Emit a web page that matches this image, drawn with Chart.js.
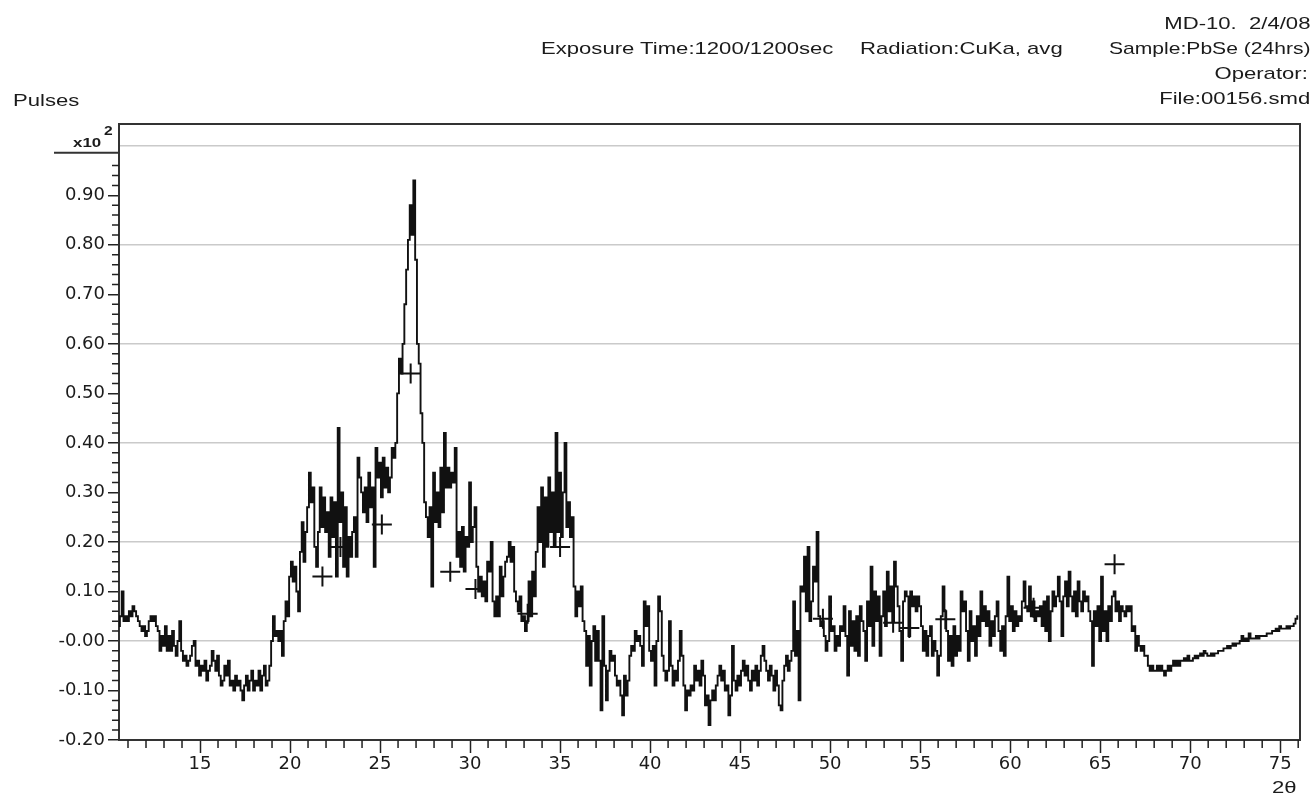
<!DOCTYPE html>
<html>
<head>
<meta charset="utf-8">
<script src="https://cdn.jsdelivr.net/npm/chart.js@4.4.1/dist/chart.umd.min.js"></script>
<style>
  html, body { margin: 0; padding: 0; background: #fff; }
  #wrap { position: relative; width: 1312px; height: 794px; overflow: hidden; }
  #chart { position: absolute; left: 0; top: 0; }
  .txt {
    position: absolute;
    font-family: "Liberation Sans", Arial, sans-serif;
    font-size: 17px;
    line-height: 17px;
    color: #1b1b1b;
    white-space: pre;
    transform: scaleX(1.3);
  }
  .l { transform-origin: left center; }
  .r { transform-origin: right center; }
  .b { font-weight: bold; font-size: 13px; line-height: 13px; }
</style>
</head>
<body>
<div id="wrap">
  <canvas id="chart" width="1312" height="794"></canvas>
  <div class="txt r" style="right:2px; top:15px">MD-10.  2/4/08</div>
  <div class="txt l" style="left:541px; top:40px">Exposure Time:1200/1200sec</div>
  <div class="txt l" style="left:860px; top:40px">Radiation:CuKa, avg</div>
  <div class="txt r" style="right:1px; top:40px; transform:scaleX(1.24)">Sample:PbSe (24hrs)</div>
  <div class="txt r" style="right:4px; top:65px">Operator:</div>
  <div class="txt r" style="right:2px; top:90px">File:00156.smd</div>
  <div class="txt l" style="left:13px; top:92px">Pulses</div>
  <div class="txt l b" style="left:73px; top:136px">x10</div>
  <div class="txt l b" style="left:104px; top:125px; font-size:12px">2</div>
  <div class="txt l" style="left:1272px; top:779px">2θ</div>
</div>

<script>
// scan counts (x10^2 pulses), first the partial degree 10.5-10.9,
// then one row per degree from 11.0 on, 0.1 deg per value
const headCounts = [0.03, 0.05, 0.10, 0.04, 0.05];
const countRows = [
  [0.04, 0.06, 0.05, 0.07, 0.06, 0.05, 0.04, 0.03, 0.02, 0.03], // 11
  [0.01, 0.02, 0.04, 0.05, 0.04, 0.05, 0.03, 0.02, -0.02, 0.01], // 12
  [-0.01, 0.03, -0.02, 0.01, -0.02, 0.02, -0.01, -0.03, 0.00, 0.04], // 13
  [-0.02, -0.04, -0.03, -0.05, -0.04, -0.03, -0.01, 0.00, -0.05, -0.04], // 14
  [-0.07, -0.05, -0.06, -0.04, -0.08, -0.06, -0.05, -0.02, -0.04, -0.06], // 15
  [-0.03, -0.07, -0.09, -0.08, -0.05, -0.07, -0.04, -0.09, -0.08, -0.10], // 16
  [-0.07, -0.09, -0.08, -0.10, -0.12, -0.09, -0.07, -0.10, -0.08, -0.06], // 17
  [-0.10, -0.08, -0.09, -0.06, -0.10, -0.07, -0.05, -0.09, -0.08, -0.05], // 18
  [0.00, 0.05, 0.01, 0.02, 0.00, 0.02, -0.03, 0.04, 0.08, 0.05], // 19
  [0.13, 0.16, 0.12, 0.15, 0.10, 0.06, 0.18, 0.24, 0.16, 0.22], // 20
  [0.27, 0.34, 0.28, 0.31, 0.19, 0.15, 0.22, 0.31, 0.23, 0.29], // 21
  [0.22, 0.26, 0.17, 0.29, 0.21, 0.28, 0.13, 0.43, 0.24, 0.30], // 22
  [0.15, 0.27, 0.13, 0.21, 0.17, 0.22, 0.25, 0.17, 0.37, 0.33], // 23
  [0.30, 0.26, 0.31, 0.24, 0.34, 0.27, 0.31, 0.15, 0.39, 0.33], // 24
  [0.36, 0.29, 0.37, 0.31, 0.35, 0.30, 0.33, 0.39, 0.37, 0.40], // 25
  [0.50, 0.57, 0.54, 0.60, 0.68, 0.75, 0.81, 0.88, 0.82, 0.93], // 26
  [0.77, 0.60, 0.56, 0.46, 0.40, 0.28, 0.25, 0.21, 0.27, 0.11], // 27
  [0.34, 0.24, 0.30, 0.23, 0.35, 0.26, 0.42, 0.31, 0.35, 0.31], // 28
  [0.34, 0.32, 0.39, 0.17, 0.22, 0.15, 0.23, 0.14, 0.21, 0.19], // 29
  [0.32, 0.20, 0.23, 0.27, 0.15, 0.10, 0.13, 0.09, 0.12, 0.08], // 30
  [0.16, 0.14, 0.20, 0.08, 0.05, 0.09, 0.05, 0.15, 0.09, 0.13], // 31
  [0.16, 0.17, 0.20, 0.16, 0.19, 0.10, 0.08, 0.06, 0.09, 0.04], // 32
  [0.05, 0.02, 0.04, 0.12, 0.05, 0.14, 0.09, 0.18, 0.27, 0.20], // 33
  [0.31, 0.15, 0.29, 0.19, 0.33, 0.22, 0.30, 0.19, 0.42, 0.22], // 34
  [0.34, 0.21, 0.30, 0.40, 0.23, 0.28, 0.21, 0.25, 0.11, 0.05], // 35
  [0.10, 0.07, 0.11, 0.04, 0.02, -0.05, 0.01, -0.09, 0.00, 0.03], // 36
  [-0.04, 0.02, -0.04, -0.14, 0.05, -0.05, -0.12, -0.06, -0.02, -0.04], // 37
  [-0.03, -0.07, -0.09, -0.08, -0.11, -0.15, -0.07, -0.11, -0.08, -0.03], // 38
  [-0.01, -0.02, 0.02, 0.00, 0.01, -0.01, -0.05, 0.08, 0.03, 0.07], // 39
  [-0.02, -0.04, -0.01, -0.09, 0.00, 0.09, 0.06, -0.03, -0.06, -0.08], // 40
  [-0.06, 0.04, -0.05, -0.09, -0.06, -0.08, -0.04, 0.02, -0.03, -0.09], // 41
  [-0.14, -0.10, -0.11, -0.09, -0.10, -0.05, -0.08, -0.06, -0.09, -0.04], // 42
  [-0.07, -0.13, -0.11, -0.17, -0.12, -0.10, -0.12, -0.09, -0.07, -0.05], // 43
  [-0.08, -0.06, -0.10, -0.09, -0.15, -0.11, -0.01, -0.08, -0.10, -0.07], // 44
  [-0.09, -0.06, -0.04, -0.07, -0.05, -0.08, -0.10, -0.06, -0.08, -0.05], // 45
  [-0.09, -0.06, -0.03, -0.01, -0.04, -0.06, -0.08, -0.05, -0.07, -0.10], // 46
  [-0.06, -0.09, -0.13, -0.14, -0.08, -0.05, -0.03, -0.06, -0.04, -0.02], // 47
  [0.08, -0.03, 0.02, -0.12, 0.11, 0.10, 0.17, 0.06, 0.19, 0.04], // 48
  [0.08, 0.15, 0.12, 0.22, 0.05, 0.03, 0.04, 0.01, -0.02, 0.00], // 49
  [0.09, 0.02, 0.03, -0.02, 0.01, -0.01, 0.03, 0.02, 0.07, 0.01], // 50
  [-0.07, 0.06, -0.01, 0.04, -0.02, 0.05, -0.03, 0.07, 0.04, 0.02], // 51
  [-0.04, 0.08, 0.03, 0.15, -0.01, 0.10, 0.04, 0.09, -0.03, 0.05], // 52
  [0.10, 0.03, 0.14, 0.06, 0.11, 0.04, 0.16, 0.11, 0.07, 0.02], // 53
  [-0.04, 0.08, 0.10, 0.09, 0.01, 0.10, 0.07, 0.09, 0.06, 0.09], // 54
  [0.07, 0.03, -0.02, 0.02, -0.03, 0.01, 0.03, -0.03, 0.00, -0.02], // 55
  [-0.07, -0.03, 0.05, 0.11, 0.06, 0.02, -0.04, 0.01, -0.05, 0.03], // 56
  [-0.03, 0.01, -0.02, 0.10, 0.06, 0.08, 0.02, -0.04, 0.06, 0.00], // 57
  [0.03, -0.03, 0.05, 0.01, 0.10, 0.04, 0.07, 0.03, 0.06, -0.01], // 58
  [0.04, 0.01, 0.05, 0.08, 0.02, -0.02, 0.03, -0.03, 0.05, 0.13], // 59
  [0.04, 0.07, 0.02, 0.06, 0.03, 0.05, 0.04, 0.08, 0.12, 0.07], // 60
  [0.06, 0.11, 0.05, 0.08, 0.04, 0.06, 0.05, 0.07, 0.03, 0.08], // 61
  [0.02, 0.09, 0.00, 0.06, 0.10, 0.07, 0.09, 0.13, 0.08, 0.01], // 62
  [0.09, 0.12, 0.07, 0.14, 0.09, 0.06, 0.10, 0.05, 0.12, 0.08], // 63
  [0.06, 0.10, 0.08, 0.09, 0.06, 0.04, -0.05, 0.06, 0.03, 0.07], // 64
  [0.00, 0.13, 0.02, 0.06, 0.00, 0.07, 0.04, 0.09, 0.10, 0.06], // 65
  [0.08, 0.04, 0.07, 0.06, 0.05, 0.07, 0.06, 0.07, 0.02, 0.03], // 66
  [-0.02, 0.01, -0.01, -0.02, -0.01, -0.03, -0.03, -0.05, -0.06, -0.05], // 67
  [-0.06, -0.06, -0.05, -0.06, -0.05, -0.06, -0.07, -0.06, -0.05, -0.06], // 68
  [-0.05, -0.04, -0.05, -0.04, -0.05, -0.04, -0.04, -0.035, -0.04, -0.03], // 69
  [-0.04, -0.04, -0.035, -0.03, -0.035, -0.03, -0.025, -0.03, -0.02, -0.025], // 70
  [-0.03, -0.03, -0.025, -0.03, -0.025, -0.025, -0.02, -0.02, -0.02, -0.015], // 71
  [-0.015, -0.01, -0.015, -0.01, -0.005, -0.01, -0.005, -0.005, 0.00, 0.01], // 72
  [0.00, 0.005, 0.00, 0.015, 0.005, 0.005, 0.005, 0.01, 0.005, 0.01], // 73
  [0.01, 0.01, 0.01, 0.015, 0.015, 0.015, 0.02, 0.02, 0.025, 0.02], // 74
  [0.03, 0.025, 0.025, 0.025, 0.03, 0.025, 0.03, 0.03, 0.035, 0.045], // 75
  [0.05] // 76
];

// "+" peak markers
const peakAngles = [21.8, 22.8, 25.1, 26.7, 28.9, 30.3, 33.2, 35.0, 49.6, 53.5, 54.4, 56.4, 61.3, 65.8];
const peakHeights = [0.13, 0.19, 0.235, 0.54, 0.14, 0.105, 0.055, 0.19, 0.045, 0.037, 0.026, 0.044, 0.067, 0.155];

const xMajorTicks = [15, 20, 25, 30, 35, 40, 45, 50, 55, 60, 65, 70, 75];
const yMajorTicks = [-0.2, -0.1, 0, 0.1, 0.2, 0.3, 0.4, 0.5, 0.6, 0.7, 0.8, 0.9, 1.0];
const yTickLabels = ["-0.20", "-0.10", "-0.00", "0.10", "0.20", "0.30", "0.40", "0.50", "0.60", "0.70", "0.80", "0.90", ""];
const yGridValues = [0, 0.2, 0.4, 0.6, 0.8, 1.0];

const near = (a, b) => Math.abs(a - b) < 1e-6;
const isMajorY = (v) => yMajorTicks.some((m) => near(m, v));

let scanPoints = headCounts.map((v, i) => ({ x: +(10.5 + i * 0.1).toFixed(2), y: v }));
countRows.forEach((row, r) => {
  row.forEach((v, j) => scanPoints.push({ x: +(11 + r + j * 0.1).toFixed(2), y: v }));
});
let peakPoints = peakAngles.map((a, i) => ({ x: a, y: peakHeights[i] }));

const framePlugin = {
  id: "frame",
  afterDraw(chart) {
    const { ctx, chartArea: a, scales } = chart;
    ctx.save();
    ctx.strokeStyle = "#333";
    ctx.lineWidth = 2;
    ctx.beginPath();
    ctx.moveTo(a.left - 1, a.top);
    ctx.lineTo(a.right, a.top);
    ctx.lineTo(a.right, a.bottom);
    ctx.stroke();

    // short minor ticks
    ctx.strokeStyle = "#222";
    ctx.lineWidth = 1.5;
    ctx.beginPath();
    scales.x.ticks.forEach((t) => {
      if (xMajorTicks.includes(t.value)) return;
      const px = scales.x.getPixelForValue(t.value);
      ctx.moveTo(px, a.bottom);
      ctx.lineTo(px, a.bottom + 8);
    });
    scales.y.ticks.forEach((t) => {
      if (isMajorY(t.value) || t.value > 0.97) return;
      const py = scales.y.getPixelForValue(t.value);
      ctx.moveTo(a.left - 7, py);
      ctx.lineTo(a.left, py);
    });
    ctx.stroke();

    // rule under the x10^2 marker
    ctx.lineWidth = 2;
    ctx.strokeStyle = "#333";
    ctx.beginPath();
    const py = scales.y.getPixelForValue(1.0) + 7;
    ctx.moveTo(54, py);
    ctx.lineTo(a.left, py);
    ctx.stroke();
    ctx.restore();
  },
};

new Chart(document.querySelector("#chart"), {
  data: {
    datasets: [
      {
        type: "line",
        data: scanPoints,
        borderColor: "#111",
        borderWidth: 1.9,
        pointRadius: 0,
        stepped: "middle",
        order: 2,
      },
      {
        type: "scatter",
        data: peakPoints,
        pointStyle: "cross",
        pointRadius: 10,
        borderColor: "#111",
        borderWidth: 2,
        order: 1,
      },
    ],
  },
  options: {
    responsive: false,
    devicePixelRatio: 1,
    animation: false,
    events: [],
    layout: { padding: { top: 124, right: 3, left: 0, bottom: 0 } },
    plugins: { legend: { display: false }, tooltip: { enabled: false } },
    scales: {
      x: {
        type: "linear",
        position: "bottom",
        min: 10.5,
        max: 76.1,
        afterBuildTicks: (s) => {
          const t = [];
          for (let v = 11; v <= 76; v++) t.push({ value: v });
          s.ticks = t;
        },
        ticks: {
          autoSkip: false,
          maxRotation: 0,
          padding: 1,
          color: "#1b1b1b",
          font: { family: "DejaVu Sans", size: 18 },
          callback: (v) => (xMajorTicks.includes(v) ? String(v) : ""),
        },
        grid: {
          drawOnChartArea: false,
          tickLength: 13,
          tickWidth: 1.5,
          tickColor: (c) => (c.tick && xMajorTicks.includes(c.tick.value) ? "#222" : "rgba(0,0,0,0)"),
        },
        border: { color: "#333", width: 2 },
        afterFit: (s) => {
          s.height = 54;
        },
      },
      y: {
        type: "linear",
        min: -0.2,
        max: 1.044,
        afterBuildTicks: (s) => {
          const t = [];
          for (let k = -10; k <= 50; k++) t.push({ value: k / 50 });
          s.ticks = t;
        },
        ticks: {
          autoSkip: false,
          padding: 3,
          color: "#1b1b1b",
          font: { family: "DejaVu Sans", size: 18 },
          callback: (v) => {
            const i = yMajorTicks.findIndex((m) => near(m, v));
            return i >= 0 ? yTickLabels[i] : "";
          },
        },
        grid: {
          lineWidth: 1.5,
          color: (c) => (c.tick && yGridValues.some((g) => near(g, c.tick.value)) ? "#cacaca" : "rgba(0,0,0,0)"),
          tickLength: 11,
          tickWidth: 1.5,
          tickColor: (c) => (c.tick && isMajorY(c.tick.value) && !near(c.tick.value, 1) ? "#222" : "rgba(0,0,0,0)"),
        },
        border: { color: "#333", width: 2 },
        afterFit: (s) => {
          s.width = 119;
        },
      },
    },
  },
  plugins: [framePlugin],
});
</script>
</body>
</html>
